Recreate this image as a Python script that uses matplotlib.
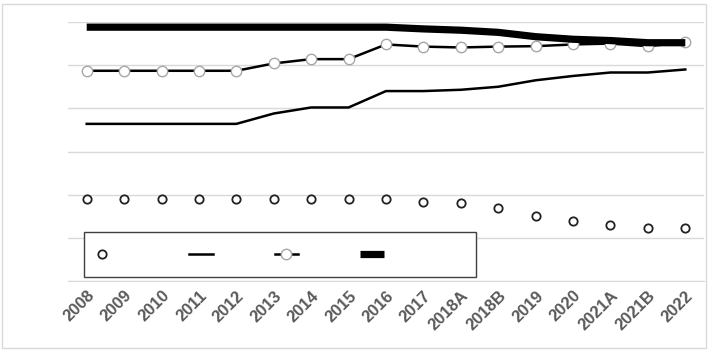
import matplotlib
matplotlib.use("Agg")
import matplotlib.pyplot as plt
from matplotlib.patches import Rectangle

# categories on the x axis
years = ["2008", "2009", "2010", "2011", "2012", "2013", "2014", "2015", "2016",
         "2017", "2018A", "2018B", "2019", "2020", "2021A", "2021B", "2022"]

# series (grid step = 1)
s_markers = [1.90, 1.90, 1.90, 1.90, 1.90, 1.90, 1.90, 1.90, 1.90,
             1.84, 1.81, 1.69, 1.50, 1.40, 1.30, 1.23, 1.23]
s_thin = [3.64, 3.64, 3.64, 3.64, 3.64, 3.88, 4.02, 4.02, 4.40,
          4.40, 4.43, 4.50, 4.65, 4.75, 4.83, 4.83, 4.90]
s_dotted = [4.87, 4.87, 4.87, 4.87, 4.87, 5.04, 5.14, 5.14, 5.48,
            5.43, 5.41, 5.43, 5.44, 5.48, 5.50, 5.44, 5.53]
s_thick = [5.88, 5.88, 5.88, 5.88, 5.88, 5.88, 5.88, 5.88, 5.88,
           5.84, 5.81, 5.76, 5.66, 5.60, 5.57, 5.52, 5.52]

x = list(range(len(years)))
grid_col = "#d9d9d9"

fig = plt.figure(figsize=(7.13, 3.58), dpi=100)
ax = fig.add_axes([68 / 713, 77 / 358, 636 / 713, 259 / 358])

# outer chart border
fig.patches.append(Rectangle((2 / 713, 10 / 358), 704 / 713, 344 / 358,
                             transform=fig.transFigure, fill=False,
                             edgecolor=grid_col, linewidth=1.0))

h1, = ax.plot(x, s_markers, linestyle="none", marker="o", markersize=6,
              markerfacecolor="white", markeredgecolor="#222222",
              markeredgewidth=1.3, zorder=3)
h2, = ax.plot(x, s_thin, color="black", linewidth=1.8, zorder=3)
h3, = ax.plot(x, s_dotted, color="black", linewidth=1.8, marker="o",
              markersize=7.5, markerfacecolor="white",
              markeredgecolor="#a6a6a6", markeredgewidth=1.0, zorder=3)
h4, = ax.plot(x, s_thick, color="black", linewidth=5.2,
              solid_capstyle="butt", zorder=4)

ax.set_xlim(-0.5, len(years) - 0.5)
ax.set_ylim(0, 6)
ax.set_yticks(range(0, 7))
ax.yaxis.grid(True, color=grid_col, linewidth=1.0)
ax.set_axisbelow(True)
ax.tick_params(axis="y", left=False, labelleft=False)
ax.tick_params(axis="x", length=0, pad=5)
ax.set_xticks(x)
ax.set_xticklabels(years, rotation=45, ha="right", va="top",
                   rotation_mode="anchor", fontsize=12, fontweight="bold",
                   color="#595959", family="Liberation Sans")
for side in ["top", "right", "left"]:
    ax.spines[side].set_visible(False)
ax.spines["bottom"].set_color(grid_col)

# legend box with unlabeled entries
ax.add_patch(Rectangle((16 / 636, 4 / 259), 392 / 636, 45 / 259,
                       transform=ax.transAxes, facecolor="white",
                       edgecolor="#404040", linewidth=1.0, zorder=5))
leg = ax.legend([h1, h2, h3, h4], ["   ", "", "", ""], ncol=4,
                frameon=False, loc="center left",
                bbox_to_anchor=(17 / 636, 26.5 / 259), handlelength=1.7,
                handletextpad=0.8, columnspacing=3.65, fontsize=10,
                borderaxespad=0, borderpad=0.4)
leg.set_zorder(6)

fig.savefig("out.png", dpi=100)
